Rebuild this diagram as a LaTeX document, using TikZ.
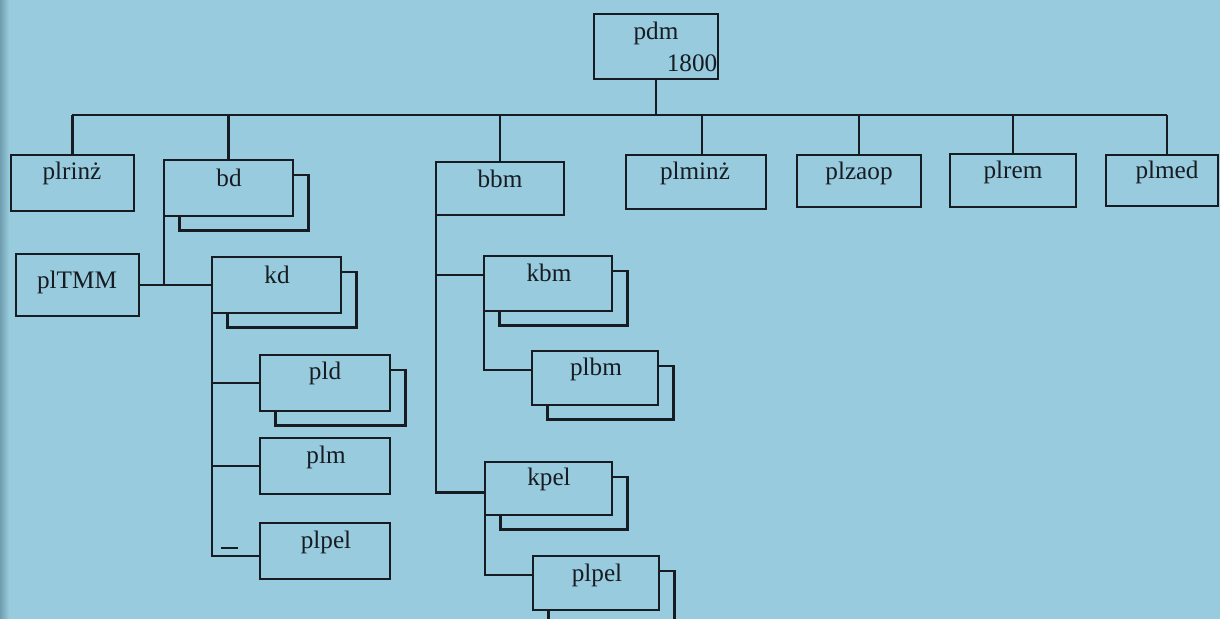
\documentclass[tikz,border=0pt]{standalone}
\usepackage{fontspec}
\setmainfont{Liberation Serif}
\definecolor{bg}{RGB}{152,203,221}
\definecolor{bgdark}{RGB}{112,158,176}
\definecolor{ink}{RGB}{22,28,34}
\newcommand\orgbox[5]{\node[box, minimum width={(#4-#2)*0.5pt}, minimum height={(#5-#3)*0.5pt}] (#1) at ({(#2+#4)/2},{(#3+#5)/2}) {};}
\newcommand\orgshadow[1]{\draw[line] ([yshift=-7.5pt]#1.north east) -| ([xshift=7.75pt,yshift=-7.25pt]#1.south east) -| ([xshift=7.75pt]#1.south west);}
\begin{document}
\begin{tikzpicture}[x=0.5pt,y=-0.5pt,
 line/.style={draw=ink, line width=1.15pt},
 box/.style={line, inner sep=0pt, outer sep=0pt},
 lbl/.style={text=ink, inner sep=0pt, font=\fontsize{12.6}{14}\selectfont}]
\fill[bg] (0,0) rectangle (1220,619);
\shade[left color=bgdark, right color=bg] (0,0) rectangle (9,619);
\useasboundingbox (0,0) rectangle (1220,619);
\begin{scope}
\clip (0,0) rectangle (1220,619);
% boxes
\orgbox{pdm}{594}{14}{718}{79}
\orgbox{plrinz}{11}{155}{134}{211}
\orgbox{bd}{164}{160}{293}{216}
\orgbox{bbm}{436}{162}{564}{215}
\orgbox{plminz}{626}{155}{766}{209}
\orgbox{plzaop}{797}{155}{921}{207}
\orgbox{plrem}{950}{154}{1076}{207}
\orgbox{plmed}{1106}{155}{1218}{206}
\orgbox{plTMM}{16}{254}{139}{316}
\orgbox{kd}{212}{257}{341}{313}
\orgbox{pld}{260}{355}{390}{411}
\orgbox{plm}{260}{438}{390}{494}
\orgbox{plpelA}{260}{523}{390}{579}
\orgbox{kbm}{484}{256}{612}{311}
\orgbox{plbm}{532}{351}{658}{405}
\orgbox{kpel}{485}{462}{612}{515}
\orgbox{plpelB}{533}{556}{659}{610}
% shadows
\foreach \n in {bd,kd,pld,kbm,plbm,kpel,plpelB} {\orgshadow{\n}}
% labels
\node[lbl] (t-pdm) at (656,33) {pdm};
\node[lbl] (t-1800) at (692,63) {1800};
\node[lbl] (t-plrinz) at (72,173) {plrinż};
\node[lbl] (t-bd) at (229,178) {bd};
\node[lbl] (t-bbm) at (500,179) {bbm};
\node[lbl] (t-plminz) at (695,173) {plminż};
\node[lbl] (t-plzaop) at (859,173) {plzaop};
\node[lbl] (t-plrem) at (1013,172) {plrem};
\node[lbl] (t-plmed) at (1167,172) {plmed};
\node[lbl] (t-plTMM) at (77,282) {plTMM};
\node[lbl] (t-kd) at (277,275) {kd};
\node[lbl] (t-pld) at (325,373) {pld};
\node[lbl] (t-plm) at (326,457) {plm};
\node[lbl] (t-plpelA) at (326,542) {plpel};
\node[lbl] (t-kbm) at (549,273) {kbm};
\node[lbl] (t-plbm) at (596,369) {plbm};
\node[lbl] (t-kpel) at (549,479) {kpel};
\node[lbl] (t-plpelB) at (597,575) {plpel};
% top bus
\coordinate (busL) at (72,115);
\coordinate (busR) at (1167,115);
\draw[line] (busL) -- (busR);
\draw[line] (pdm.south) -- (pdm.south |- busL);
\foreach \n in {plrinz,bd,bbm,plzaop,plrem} {\draw[line] (\n.north) -- (\n.north |- busL);}
\coordinate (dminz) at ([xshift=3pt]plminz.north);
\coordinate (dmed) at ([xshift=2.5pt]plmed.north);
\draw[line] (dminz) -- (dminz |- busL);
\draw[line] (dmed) -- (dmed |- busL);
% bd branch
\draw[line] (bd.south west) -- (bd.south west |- kd.west);
\draw[line] (plTMM.east) -- (kd.west);
% kd column
\coordinate (inA) at ([yshift=-2.5pt]plpelA.west);
\draw[line] (kd.south west) |- (inA);
\draw[line] (kd.south west |- pld.west) -- (pld.west);
\draw[line] (kd.south west |- plm.west) -- (plm.west);
% bbm column
\coordinate (inkbm) at ([yshift=4.25pt]kbm.west);
\coordinate (inkpel) at ([yshift=-2pt]kpel.west);
\draw[line] (bbm.south west) |- (inkpel);
\draw[line] (bbm.south west |- inkbm) -- (inkbm);
\coordinate (inplbm) at ([yshift=4pt]plbm.west);
\draw[line] (kbm.south west) |- (inplbm);
\coordinate (inB) at ([yshift=4pt]plpelB.west);
\draw[line] (kpel.south west) |- (inB);
% stray mark
\draw[ink, line width=0.6pt] (221,548) -- (238,548);
\end{scope}
\end{tikzpicture}
\end{document}
